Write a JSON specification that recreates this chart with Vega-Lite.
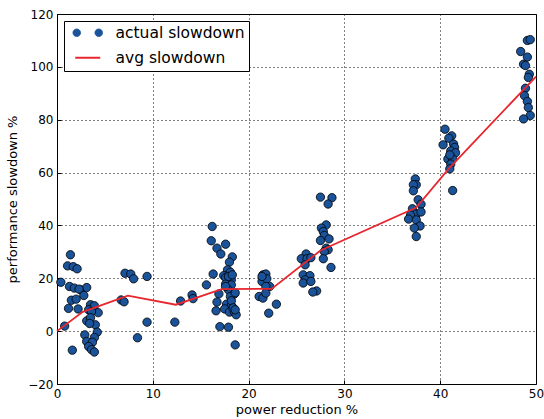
{
  "$schema": "https://vega.github.io/schema/vega-lite/v6.json",
  "width": 479,
  "height": 370,
  "autosize": "none",
  "padding": {"left": 57, "top": 14, "right": 8, "bottom": 35},
  "background": "white",
  "config": {
    "font": "DejaVu Sans",
    "view": {"stroke": "black", "strokeWidth": 1},
    "axis": {
      "grid": true, "gridColor": "black", "gridDash": [1, 3], "gridOpacity": 1, "gridWidth": 1,
      "domain": false, "tickColor": "black", "tickSize": -4, "tickWidth": 1,
      "labelFont": "DejaVu Sans", "labelFontSize": 12, "labelColor": "black", "labelPadding": 8,
      "titleFont": "DejaVu Sans", "titleFontSize": 13, "titleFontWeight": "normal", "titleColor": "black"
    },
    "legend": {
      "title": null, "orient": "none", "legendX": 7, "legendY": 7, "direction": "vertical",
      "strokeColor": "black", "fillColor": "white", "padding": 4, "cornerRadius": 0,
      "labelFont": "DejaVu Sans", "labelFontSize": 15.5, "labelColor": "black",
      "symbolSize": 400, "symbolOffset": 12, "labelOffset": 20, "rowPadding": 8
    }
  },
  "datasets": {
    "actual": [
      {"x":1.4,"y":28.9},{"x":1.1,"y":24.7},{"x":1.7,"y":24.4},{"x":2.1,"y":23.6},{"x":0.4,"y":18.5},{"x":1.3,"y":16.9},{"x":1.8,"y":16.3},{"x":2.5,"y":15.6},{"x":3.1,"y":16.5},{"x":2.3,"y":15.9},{"x":2.8,"y":13.5},{"x":1.5,"y":11.7},{"x":2.0,"y":12.1},{"x":1.2,"y":8.6},{"x":2.2,"y":8.4},{"x":3.5,"y":10.0},{"x":3.9,"y":9.6},{"x":4.3,"y":7.0},{"x":3.3,"y":8.1},{"x":3.6,"y":7.4},{"x":3.1,"y":3.9},{"x":3.5,"y":5.1},{"x":4.0,"y":2.4},{"x":3.4,"y":2.9},{"x":0.8,"y":1.9},{"x":4.2,"y":-0.4},{"x":2.9,"y":-1.4},{"x":3.9,"y":-2.4},{"x":3.1,"y":-3.9},{"x":3.7,"y":-4.2},{"x":3.3,"y":-5.8},{"x":3.6,"y":-7.0},{"x":3.9,"y":-7.9},{"x":1.6,"y":-7.2},
      {"x":7.1,"y":21.9},{"x":7.7,"y":21.6},{"x":8.0,"y":19.8},{"x":9.4,"y":20.7},{"x":6.7,"y":11.8},{"x":7.0,"y":11.1},{"x":9.4,"y":3.4},{"x":8.4,"y":-2.5},{"x":12.3,"y":3.4},{"x":12.9,"y":11.4},{"x":14.1,"y":13.7},{"x":14.2,"y":12.3},
      {"x":16.2,"y":39.6},{"x":16.1,"y":34.2},{"x":16.7,"y":31.4},{"x":17.1,"y":29.2},{"x":17.6,"y":32.9},{"x":18.3,"y":28.1},{"x":18.0,"y":26.1},{"x":17.8,"y":23.2},{"x":18.1,"y":22.3},{"x":16.3,"y":21.6},{"x":17.4,"y":21.0},{"x":17.6,"y":20.3},{"x":18.2,"y":19.4},{"x":15.6,"y":17.5},{"x":17.6,"y":17.8},{"x":18.2,"y":17.5},{"x":17.9,"y":15.6},{"x":18.5,"y":14.0},{"x":16.9,"y":14.1},{"x":18.1,"y":13.1},{"x":16.7,"y":11.0},{"x":17.7,"y":10.2},{"x":18.2,"y":9.7},{"x":16.6,"y":7.7},{"x":17.5,"y":8.4},{"x":18.0,"y":7.2},{"x":18.5,"y":7.4},{"x":18.7,"y":6.2},{"x":17.0,"y":1.7},{"x":17.9,"y":1.5},{"x":18.6,"y":-5.2},{"x":17.9,"y":20.7},{"x":18.3,"y":21.3},{"x":17.6,"y":16.9},{"x":18.6,"y":14.5},{"x":18.2,"y":11.5},{"x":18.4,"y":8.8},{"x":18.6,"y":8.1},
      {"x":21.5,"y":21.3},{"x":21.8,"y":21.6},{"x":21.4,"y":18.8},{"x":21.9,"y":19.8},{"x":22.2,"y":16.9},{"x":21.8,"y":16.9},{"x":21.1,"y":13.1},{"x":21.5,"y":12.5},{"x":21.8,"y":14.4},{"x":22.1,"y":6.8},{"x":22.9,"y":10.2},{"x":21.4,"y":20.7},
      {"x":27.5,"y":50.7},{"x":28.7,"y":50.5},{"x":28.3,"y":48.1},{"x":28.1,"y":40.2},{"x":27.6,"y":39.0},{"x":27.8,"y":37.7},{"x":27.9,"y":36.2},{"x":28.4,"y":34.9},{"x":27.5,"y":34.3},{"x":28.1,"y":31.4},{"x":28.3,"y":30.8},{"x":27.9,"y":30.1},{"x":27.8,"y":27.4},{"x":28.6,"y":24.1},{"x":26.0,"y":29.2},{"x":25.5,"y":27.4},{"x":26.1,"y":27.4},{"x":26.5,"y":27.8},{"x":25.9,"y":25.1},{"x":25.7,"y":21.3},{"x":26.4,"y":21.0},{"x":25.9,"y":19.4},{"x":25.7,"y":18.2},{"x":26.5,"y":18.8},{"x":27.1,"y":15.2},{"x":26.7,"y":14.8},
      {"x":37.4,"y":57.6},{"x":37.5,"y":55.4},{"x":37.2,"y":55.4},{"x":37.2,"y":53.1},{"x":37.7,"y":49.7},{"x":38.0,"y":48.0},{"x":37.1,"y":46.3},{"x":37.5,"y":44.3},{"x":36.9,"y":43.9},{"x":38.0,"y":45.1},{"x":36.7,"y":42.4},{"x":37.5,"y":42.1},{"x":37.9,"y":39.8},{"x":37.3,"y":39.0},{"x":37.5,"y":35.8},
      {"x":40.5,"y":76.4},{"x":41.2,"y":73.9},{"x":40.9,"y":73.0},{"x":41.4,"y":70.8},{"x":40.3,"y":70.5},{"x":41.5,"y":69.5},{"x":41.1,"y":68.2},{"x":41.6,"y":67.5},{"x":40.8,"y":65.1},{"x":41.3,"y":65.2},{"x":41.1,"y":63.2},{"x":41.0,"y":61.4},{"x":41.3,"y":53.2},{"x":41.0,"y":66.7},
      {"x":49.1,"y":110.0},{"x":49.4,"y":110.3},{"x":48.4,"y":105.8},{"x":49.1,"y":103.7},{"x":48.7,"y":101.0},{"x":48.9,"y":100.5},{"x":49.3,"y":97.2},{"x":49.2,"y":96.0},{"x":48.9,"y":91.9},{"x":48.8,"y":89.1},{"x":49.1,"y":86.9},{"x":49.2,"y":84.6},{"x":49.4,"y":81.6},{"x":48.7,"y":80.3}
    ],
    "avg": [
      {"x":0,"y":0},{"x":2.7,"y":7.3},{"x":7.4,"y":13.4},{"x":12.4,"y":10.0},{"x":17.2,"y":15.9},{"x":22.4,"y":16.0},{"x":27.5,"y":30.5},{"x":37.5,"y":46.8},{"x":40.9,"y":61.5},{"x":50,"y":96.3}
    ]
  },
  "encoding": {
    "x": {"field": "x", "type": "quantitative", "scale": {"domain": [0, 50], "nice": false, "zero": false},
          "axis": {"title": "power reduction %", "values": [0, 10, 20, 30, 40, 50], "labelFlush": false, "titlePadding": 4}},
    "y": {"field": "y", "type": "quantitative", "scale": {"domain": [-20, 120], "nice": false, "zero": false},
          "axis": {"title": "performance slowdown %", "values": [-20, 0, 20, 40, 60, 80, 100, 120], "titlePadding": 8}}
  },
  "layer": [
    {
      "data": {"name": "actual"},
      "mark": {"type": "point", "shape": "circle", "filled": true, "size": 70, "stroke": "black", "strokeWidth": 0.8, "opacity": 1},
      "encoding": {
        "color": {"datum": "actual slowdown", "type": "nominal",
          "scale": {"domain": ["actual slowdown", "avg slowdown"], "range": ["#1a5399", "#e8262e"]},
          "legend": {
            "symbolType": "M-1.48,0A0.38,0.38,0,1,0,-0.72,0A0.38,0.38,0,1,0,-1.48,0ZM0.72,0A0.38,0.38,0,1,0,1.48,0A0.38,0.38,0,1,0,0.72,0Z",
            "encode": {"symbols": {"update": {
              "shape": {"signal": "datum.value === 'avg slowdown' ? 'M-1.25,0L1.25,0' : 'M-1.48,0A0.38,0.38,0,1,0,-0.72,0A0.38,0.38,0,1,0,-1.48,0ZM0.72,0A0.38,0.38,0,1,0,1.48,0A0.38,0.38,0,1,0,0.72,0Z'"},
              "fill": {"signal": "datum.value === 'avg slowdown' ? 'transparent' : '#1a5399'"},
              "stroke": {"signal": "datum.value === 'avg slowdown' ? '#e8262e' : 'black'"},
              "strokeWidth": {"signal": "datum.value === 'avg slowdown' ? 2 : 0.8"},
              "opacity": {"value": 1}
            }}}
          }}
      }
    },
    {
      "data": {"name": "avg"},
      "mark": {"type": "line", "strokeWidth": 1.8},
      "encoding": {
        "color": {"datum": "avg slowdown", "type": "nominal",
          "legend": {
            "symbolType": "M-1.48,0A0.38,0.38,0,1,0,-0.72,0A0.38,0.38,0,1,0,-1.48,0ZM0.72,0A0.38,0.38,0,1,0,1.48,0A0.38,0.38,0,1,0,0.72,0Z",
            "encode": {"symbols": {"update": {
              "shape": {"signal": "datum.value === 'avg slowdown' ? 'M-1.25,0L1.25,0' : 'M-1.48,0A0.38,0.38,0,1,0,-0.72,0A0.38,0.38,0,1,0,-1.48,0ZM0.72,0A0.38,0.38,0,1,0,1.48,0A0.38,0.38,0,1,0,0.72,0Z'"},
              "fill": {"signal": "datum.value === 'avg slowdown' ? 'transparent' : '#1a5399'"},
              "stroke": {"signal": "datum.value === 'avg slowdown' ? '#e8262e' : 'black'"},
              "strokeWidth": {"signal": "datum.value === 'avg slowdown' ? 2 : 0.8"},
              "opacity": {"value": 1}
            }}}
          }}
      }
    }
  ]
}
